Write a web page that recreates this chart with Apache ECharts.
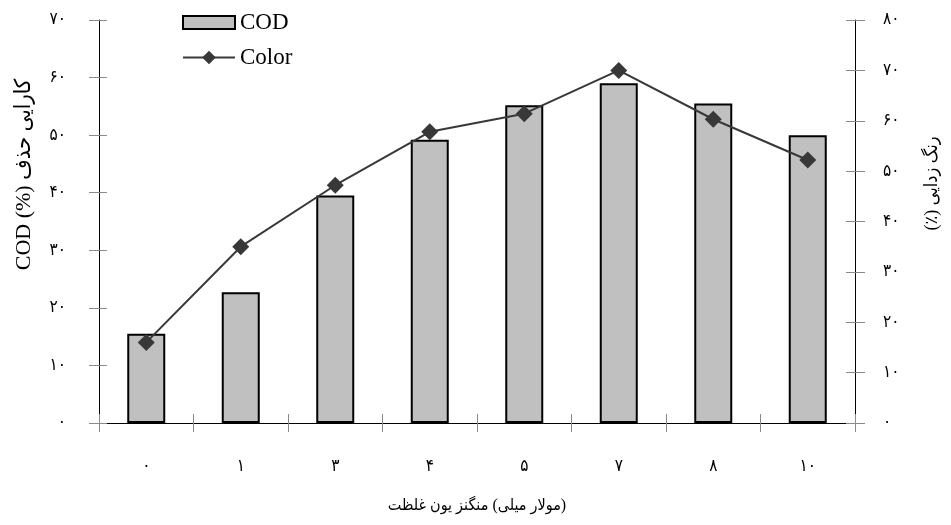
<!DOCTYPE html>
<html>
<head>
<meta charset="utf-8">
<script src="https://cdn.jsdelivr.net/npm/echarts@6/dist/echarts.min.js"></script>
<style>
  html, body { margin: 0; padding: 0; background: #fff; }
  #chart { width: 951px; height: 525px; }
</style>
</head>
<body>
<div id="chart"></div>
<script>
// Manganese ion concentration (mM), shown with Persian digits
const categories = ['۰', '۱', '۳', '۴', '۵', '۷', '۸', '۱۰'];
// COD removal efficiency (%), left axis
const codValues = [15.5, 22.7, 39.5, 49.2, 55.2, 59.0, 55.5, 50.0];
// Decolorization (%), right axis
const colorValues = [16.0, 35.0, 47.2, 57.8, 61.4, 70.0, 60.3, 52.2];
// Persian digit glyphs used for the value-axis tick labels
const persianDigits = ['۰', '۱', '۲', '۳', '۴', '۵', '۶', '۷', '۸', '۹'];
// Axis titles, as pieces laid out left to right
const xTitleParts = ['غلظت', ' ', 'یون', ' ', 'منگنز', ' ', '(', 'میلی', ' ', 'مولار', ')'];
const leftTitleParts = ['COD (%)', ' ', 'کارایی حذف'];
const rightTitleParts = ['(٪)', ' ', 'رنگ زدایی'];

const toPersian = v => String(v).replace(/[0-9]/g, d => persianDigits[+d]);
// each piece becomes its own rich-text token so the pieces keep their order
const asTokens = parts => parts.map(p => '{w|' + p + '}').join('');

const serif = "'Liberation Serif', 'DejaVu Sans Condensed', 'DejaVu Sans', serif";
const tickColor = '#8a8a8a';
const labelStyle = { fontFamily: serif, fontSize: 17, color: '#000' };
const titleStyle = (size, extra) => Object.assign({
  fontFamily: serif, fontSize: size, color: '#000',
  rich: { w: { fontFamily: serif, fontSize: size, color: '#000' } }
}, extra || {});

const chart = echarts.init(document.getElementById('chart'), null, { renderer: 'canvas' });

chart.setOption({
  animation: false,
  backgroundColor: '#fff',
  grid: { left: 99, right: 96, top: 20, bottom: 102, containLabel: false },
  legend: {
    orient: 'vertical',
    left: 177,
    top: 6,
    itemWidth: 52,
    itemHeight: 17,
    itemGap: 12,
    textStyle: { fontFamily: serif, fontSize: 23, color: '#000' },
    data: [
      { name: 'COD', icon: 'path://M0,0L52,0L52,13L0,13Z' },
      { name: 'Color' }
    ]
  },
  xAxis: [
    {
      type: 'category',
      data: categories,
      position: 'bottom',
      axisLine: { lineStyle: { color: '#000', width: 1 } },
      axisTick: { show: true, inside: false, length: 9, lineStyle: { color: tickColor } },
      axisLabel: Object.assign({ margin: 35 }, labelStyle),
      name: asTokens(xTitleParts),
      nameLocation: 'middle',
      nameGap: 75,
      nameTextStyle: titleStyle(16),
      splitLine: { show: false }
    },
    {
      // inner half of the crossing category ticks
      type: 'category',
      data: categories,
      position: 'bottom',
      axisLine: { show: false },
      axisTick: { show: true, inside: true, length: 9, lineStyle: { color: tickColor } },
      axisLabel: { show: false },
      splitLine: { show: false }
    }
  ],
  yAxis: [
    {
      type: 'value',
      position: 'left',
      min: 0, max: 70, interval: 10,
      axisLine: { show: true, lineStyle: { color: '#000', width: 1 } },
      axisTick: { show: true, inside: false, length: 10, lineStyle: { color: tickColor } },
      axisLabel: Object.assign({ margin: 33, formatter: toPersian }, labelStyle),
      splitLine: { show: false },
      name: asTokens(leftTitleParts),
      nameLocation: 'middle',
      nameRotate: 90,
      nameGap: 64,
      nameTextStyle: titleStyle(22, { padding: [0, 0, 0, 94] })
    },
    {
      type: 'value',
      position: 'right',
      min: 0, max: 80, interval: 10,
      axisLine: { show: true, lineStyle: { color: '#000', width: 1 } },
      axisTick: { show: true, inside: false, length: 10, lineStyle: { color: tickColor } },
      axisLabel: Object.assign({ margin: 28, formatter: toPersian }, labelStyle),
      splitLine: { show: false },
      name: asTokens(rightTitleParts),
      nameLocation: 'middle',
      nameRotate: 90,
      nameGap: 68,
      nameTextStyle: titleStyle(18, { padding: [0, 0, 0, 76] })
    },
    {
      // inner half of the crossing ticks on the left axis
      type: 'value',
      position: 'left',
      min: 0, max: 70, interval: 10,
      axisLine: { show: false },
      axisTick: { show: true, inside: true, length: 8, lineStyle: { color: tickColor } },
      axisLabel: { show: false },
      splitLine: { show: false }
    },
    {
      // inner half of the crossing ticks on the right axis
      type: 'value',
      position: 'right',
      min: 0, max: 80, interval: 10,
      axisLine: { show: false },
      axisTick: { show: true, inside: true, length: 9, lineStyle: { color: tickColor } },
      axisLabel: { show: false },
      splitLine: { show: false }
    }
  ],
  series: [
    {
      name: 'COD',
      type: 'bar',
      xAxisIndex: 0,
      yAxisIndex: 0,
      data: codValues,
      barWidth: 38,
      itemStyle: { color: '#c0c0c0', borderColor: '#000', borderWidth: 2 }
    },
    {
      name: 'Color',
      type: 'line',
      xAxisIndex: 0,
      yAxisIndex: 1,
      data: colorValues,
      symbol: 'diamond',
      symbolSize: 17,
      lineStyle: { color: '#383838', width: 2 },
      itemStyle: { color: '#383838' },
      z: 5
    }
  ]
});
</script>
</body>
</html>
